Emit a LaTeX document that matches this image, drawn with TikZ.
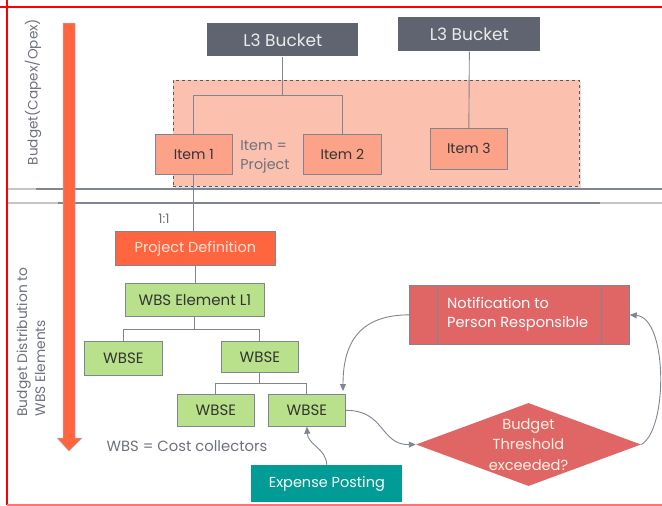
\documentclass[tikz,border=0pt]{standalone}
\usepackage{fontspec}
\setmainfont{Poppins}
\usetikzlibrary{arrows.meta,shapes.geometric,shadows}
\definecolor{bucket}{HTML}{5F6470}
\definecolor{region}{HTML}{FCC1AE}
\definecolor{itemfill}{HTML}{FBA288}
\definecolor{projfill}{HTML}{FF6640}
\definecolor{projtext}{HTML}{FFE3DA}
\definecolor{wbsfill}{HTML}{B9E08B}
\definecolor{teal}{HTML}{009C95}
\definecolor{alert}{HTML}{E06666}
\definecolor{edge}{HTML}{7F8591}
\definecolor{labelgray}{HTML}{6D717C}
\definecolor{darktext}{HTML}{333333}
\definecolor{arrowbar}{HTML}{FF6640}
\tikzset{
  box/.style={draw=edge, line width=0.7pt, inner sep=0pt, anchor=north west, font=\fontsize{14.5}{17}\selectfont, text=darktext},
  bucketbox/.style={box, fill=bucket, draw=none, text=white!92!black, font=\fontsize{17}{20}\selectfont},
  itembox/.style={box, fill=itemfill, font=\fontsize{14}{17}\selectfont},
  wbsbox/.style={box, fill=wbsfill, font=\fontsize{15}{18}\selectfont},
  conn/.style={draw=edge, line width=0.9pt},
  flow/.style={draw=edge, line width=0.9pt, -{Triangle[length=7pt,width=6pt]}},
  note/.style={text=labelgray, inner sep=0pt, font=\fontsize{13}{16}\selectfont},
}
\begin{document}
\begin{tikzpicture}[x=1pt, y=-1pt]
\useasboundingbox (0,0) rectangle (662,506);
% frame
\draw[red, line width=2pt] (7,0) -- (7,505);
\draw[red, line width=2pt] (0,7) -- (662,7);
\draw[red!55, line width=1.5pt] (7,505) -- (662,505);
% horizontal separators
\draw[gray!45, line width=1.3pt] (8,189) -- (662,189);
\draw[gray!45, line width=1.3pt] (8,203) -- (662,203);
\draw[edge, line width=1.3pt] (36,189) -- (662,189);
\draw[edge, line width=1.3pt] (58,203) -- (600,203);
% vertical arrow
\path[fill=arrowbar, draw=gray!60, line width=0.5pt] (63,23) -- (75,23) -- (75,438) -- (82,438) -- (69,451) -- (57,438) -- (63,438) -- cycle;
% side labels
\node[note, rotate=90, font=\fontsize{13.6}{16}\selectfont] (lab1) at (33,92) {Budget(Capex/Opex)};
\node[note, rotate=90, align=left, font=\fontsize{13.8}{18}\selectfont] (lab2) at (31,342) {Budget Distribution to\\WBS Elements};
% region
\node[draw=gray!70!black, dashed, fill=region, line width=0.8pt, minimum width=406pt, minimum height=106pt, inner sep=0pt, anchor=north west, drop shadow={opacity=0.25, shadow xshift=1.5pt, shadow yshift=-1.5pt}] (reg) at (173,80) {};
% buckets
\node[bucketbox, minimum width=151pt, minimum height=33pt] (b1) at (207,23) {L3 Bucket};
\node[bucketbox, minimum width=142pt, minimum height=34pt] (b2) at (398,17) {L3 Bucket};
% items
\node[itembox, minimum width=77pt, minimum height=40pt] (i1) at (155,134) {Item 1};
\node[itembox, minimum width=78pt, minimum height=40pt] (i2) at (303,134) {Item 2};
\node[itembox, minimum width=77pt, minimum height=41pt] (i3) at (430,128) {Item 3};
\node[note, align=left, font=\fontsize{14.3}{18.5}\selectfont] (ieq) at (265,157) {Item =\\Project};
\draw[conn] (b1.south) -- ++(0,39) coordinate (bj) -| (i1.north);
\draw[conn] (bj) -| (i2.north);
\draw[conn] (b2.south) -- (i3.north);
% project definition
\node[box, fill=projfill, text=projtext, minimum width=160pt, minimum height=34pt] (pd) at (115,231) {\raisebox{-3pt}{Project Definition}};
\node[note] (one) at (164,219) {1:1};
\draw[conn] (i1.south) -- (i1.south |- pd.north);
% WBS tree
\node[wbsbox, minimum width=139pt, minimum height=33pt] (l1) at (125,283) {WBS Element L1};
\draw[conn] (pd.south) -- (pd.south |- l1.north);
\node[wbsbox, minimum width=78pt, minimum height=34pt] (wl) at (84,341) {WBSE};
\node[wbsbox, minimum width=77pt, minimum height=31pt] (wr) at (221,341) {WBSE};
\draw[conn] (l1.south) -- ++(0,13) coordinate (lj) -| (wl.north);
\draw[conn] (lj) -| (wr.north);
\node[wbsbox, minimum width=77pt, minimum height=32pt] (bl) at (177,394) {WBSE};
\node[wbsbox, minimum width=77pt, minimum height=32pt] (br) at (268,394) {WBSE};
\draw[conn] (wr.south) -- ++(0,11) coordinate (wj) -| (bl.north);
\draw[conn] (wj) -| (br.north);
\node[note, font=\fontsize{14.8}{17}\selectfont] (wbsnote) at (187,446) {WBS = Cost collectors};
% expense posting
\node[box, fill=teal, draw=none, text=white, minimum width=151pt, minimum height=37pt] (exp) at (251,465) {Expense Posting};
% notification
\node[box, fill=alert, minimum width=220pt, minimum height=59pt] (nt) at (409,285) {};
\draw[edge, line width=0.8pt] (437,285) -- (437,344);
\draw[edge, line width=0.8pt] (601,285) -- (601,344);
\node[anchor=west, align=left, text=white, inner sep=0pt, font=\fontsize{14.6}{19}\selectfont] (ntt) at (447,314.5) {Notification to\\Person Responsible};
% decision
\node[diamond, fill=alert, draw=none, aspect=2.7, inner sep=0pt, minimum width=225pt, minimum height=83pt, text=white!90!orange, align=center, font=\fontsize{14.6}{20.5}\selectfont] (dec) at (528.5,444.5) {Budget\\Threshold\\exceeded?};
% flows
\draw[flow] (exp.north) .. controls (326,448) and (308,445) .. (br.south);
\draw[flow] (br.east) .. controls (385,410) and (380,445) .. (dec.west);
\draw[flow] (dec.east) .. controls (668,430) and (668,318) .. (nt.east);
\draw[flow] (nt.west) .. controls (362,315) and (343,340) .. (343,391);
\end{tikzpicture}
\end{document}
